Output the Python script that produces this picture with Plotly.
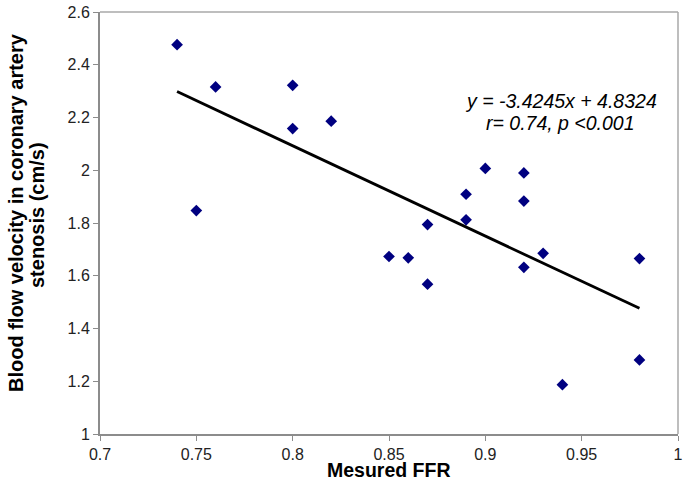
import plotly.graph_objects as go

ffr = [0.74, 0.75, 0.76, 0.80, 0.80, 0.82, 0.85, 0.86, 0.87, 0.87, 0.89, 0.89, 0.90, 0.92, 0.92, 0.92, 0.93, 0.94, 0.98, 0.98]
velocity = [2.476, 1.847, 2.316, 2.322, 2.158, 2.186, 1.673, 1.668, 1.568, 1.794, 1.909, 1.812, 2.007, 1.990, 1.883, 1.632, 1.685, 1.187, 1.665, 1.281]

slope = -3.4245
intercept = 4.8324
fit_x = [0.74, 0.98]
fit_y = [slope * v + intercept for v in fit_x]

x_ticks = [0.7, 0.75, 0.8, 0.85, 0.9, 0.95, 1.0]
x_labels = ["0.7", "0.75", "0.8", "0.85", "0.9", "0.95", "1"]
y_ticks = [1, 1.2, 1.4, 1.6, 1.8, 2.0, 2.2, 2.4, 2.6]
y_labels = ["1", "1.2", "1.4", "1.6", "1.8", "2", "2.2", "2.4", "2.6"]

FONT = "Arial, Liberation Sans, sans-serif"

fig = go.Figure()
fig.add_trace(go.Scatter(
    x=ffr, y=velocity, mode="markers",
    marker=dict(symbol="diamond", size=9, color="#000080"),
    showlegend=False, hoverinfo="skip"))
fig.add_trace(go.Scatter(
    x=fit_x, y=fit_y, mode="lines",
    line=dict(color="black", width=2.8),
    showlegend=False, hoverinfo="skip"))

axis_common = dict(showgrid=False, zeroline=False,
                   showline=True, linecolor="#8c8c8c", linewidth=2, mirror=False,
                   ticks="outside", ticklen=5, tickcolor="#8c8c8c", tickwidth=1,
                   ticklabeloverflow="allow",
                   tickfont=dict(size=16, color="#222222"))

fig.update_layout(
    width=687, height=480,
    margin=dict(l=100, r=4, t=8, b=46),
    paper_bgcolor="white", plot_bgcolor="white",
    font=dict(family=FONT, size=16, color="#222222"),
    xaxis=dict(range=[0.7, 1.0], tickvals=x_ticks, ticktext=x_labels, **axis_common),
    yaxis=dict(range=[1, 2.6], tickvals=y_ticks, ticktext=y_labels, **axis_common),
    shapes=[
        dict(type="line", xref="paper", yref="paper", x0=0, x1=1, y0=1, y1=1,
             line=dict(color="#a8a8a8", width=1.5)),
        dict(type="line", xref="paper", yref="paper", x0=1, x1=1, y0=0, y1=1,
             line=dict(color="#a8a8a8", width=1.5)),
    ],
    annotations=[
        dict(text="<b>Mesured FFR</b>", xref="paper", yref="paper",
             x=0.5, y=0, yshift=-36, xanchor="center", yanchor="middle",
             showarrow=False, font=dict(size=19.5, color="#000000")),
        dict(text="<b>Blood flow velocity in coronary artery</b>",
             xref="paper", yref="paper", x=0, y=0.5, xshift=-84, yshift=10,
             xanchor="center", yanchor="middle", textangle=-90,
             showarrow=False, font=dict(size=20, color="#000000")),
        dict(text="<b>stenosis (cm/s)</b>",
             xref="paper", yref="paper", x=0, y=0.5, xshift=-63, yshift=8,
             xanchor="center", yanchor="middle", textangle=-90,
             showarrow=False, font=dict(size=20, color="#000000")),
        dict(text="<i>y = -3.4245x + 4.8324</i>",
             xref="paper", yref="paper", x=0, y=1, xshift=461, yshift=-89,
             xanchor="center", yanchor="middle",
             showarrow=False, font=dict(size=19.5, color="#000000")),
        dict(text="<i>r= 0.74, p &lt;0.001</i>",
             xref="paper", yref="paper", x=0, y=1, xshift=460, yshift=-111,
             xanchor="center", yanchor="middle",
             showarrow=False, font=dict(size=19.5, color="#000000")),
    ],
)

fig.write_html("out.html", config={"displayModeBar": False},
               post_script="document.body.style.margin='0';document.body.style.overflow='hidden';")
